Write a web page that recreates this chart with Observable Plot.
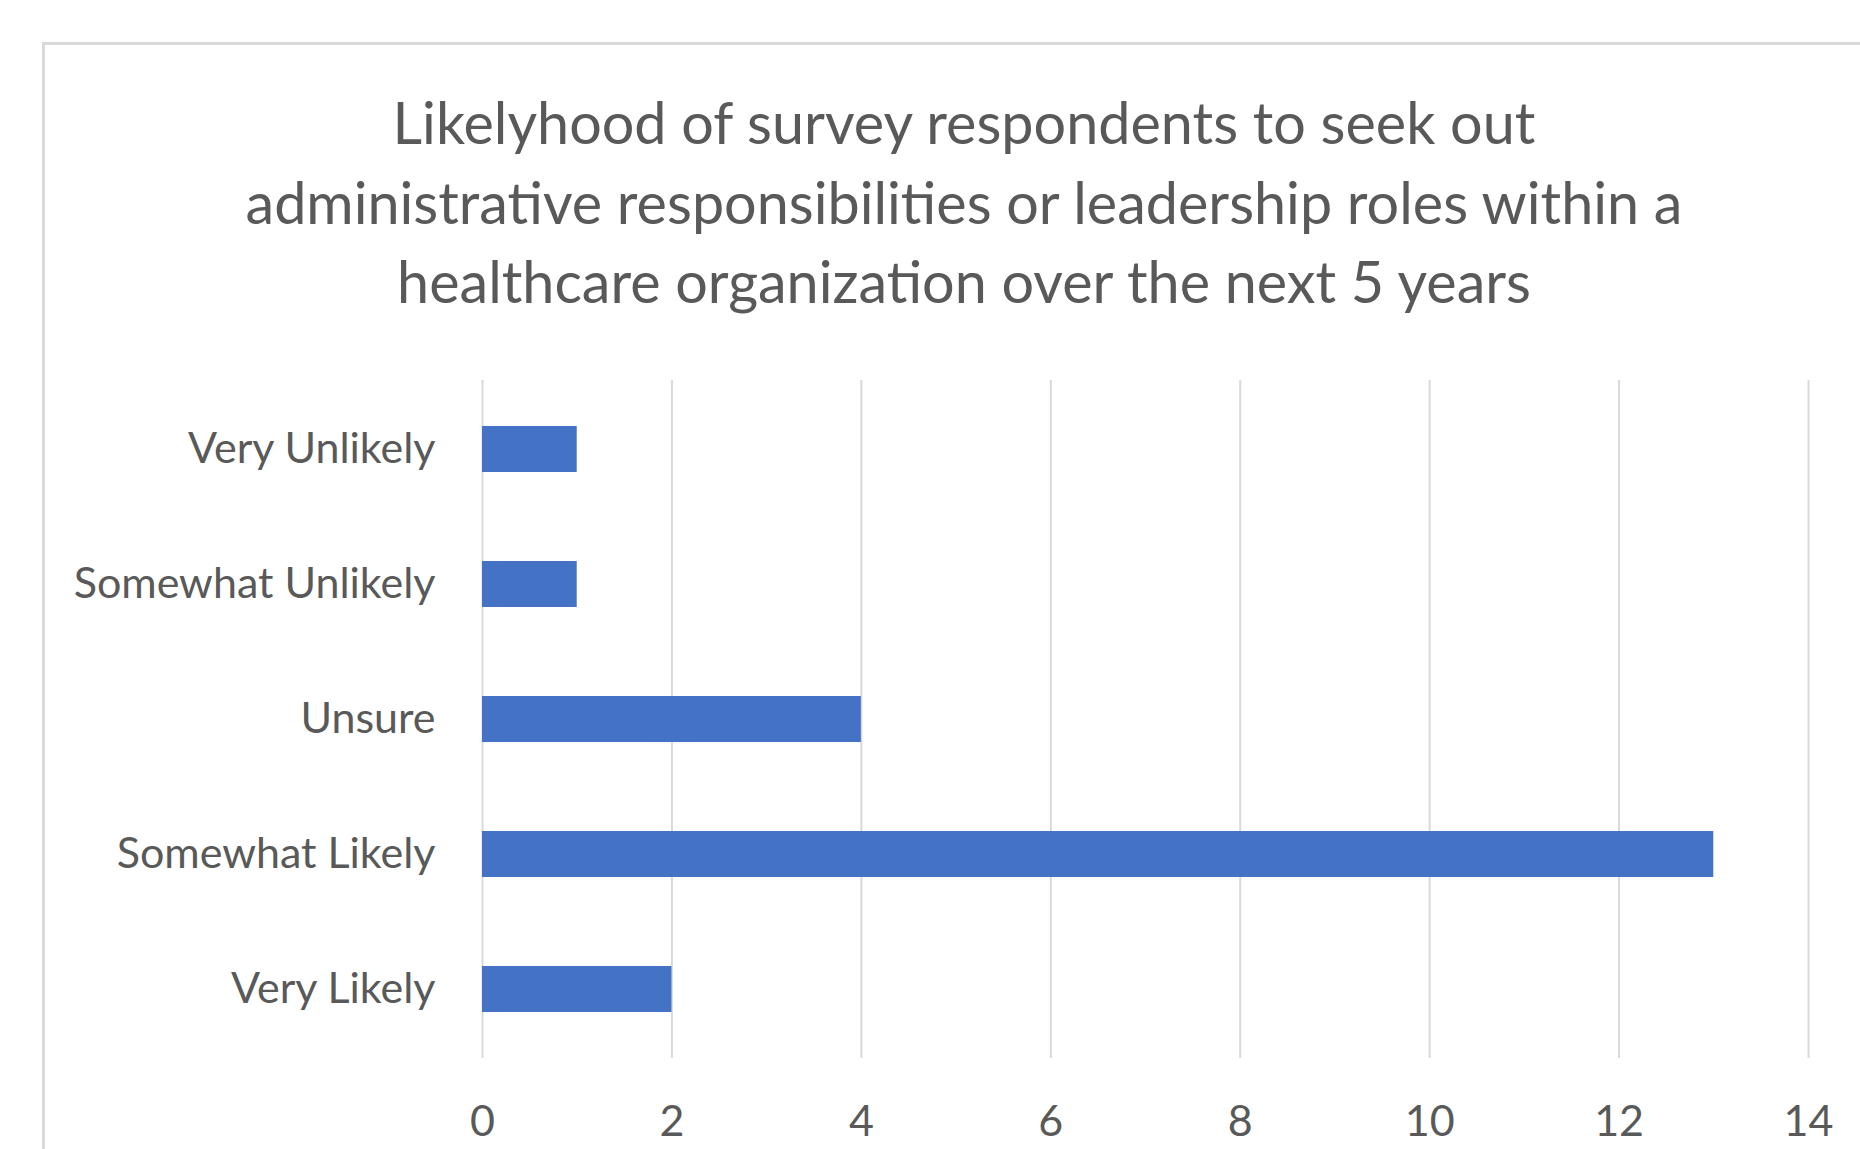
<!DOCTYPE html>
<html>
<head>
<meta charset="utf-8">
<script src="https://cdn.jsdelivr.net/npm/d3@7"></script>
<script src="https://cdn.jsdelivr.net/npm/@observablehq/plot@0.6"></script>
<style>
  html, body { margin: 0; padding: 0; background: #ffffff; overflow: hidden; width: 1860px; height: 1149px; }
  #frame { position: absolute; left: 42px; top: 42px; width: 1900px; height: 1200px; border: 3px solid #d9d9d9; box-sizing: border-box; }
  #title { position: absolute; left: 0; top: 82px; width: 1928px; text-align: center; font-family: Lato, "Open Sans", sans-serif; font-size: 57.5px; line-height: 79.5px; color: #595959; }
  #chart { position: absolute; left: 0; top: 330px; }
</style>
</head>
<body>
<div id="frame"></div>
<div id="title">Likelyhood of survey respondents to seek out<br>administrative responsibilities or leadership roles within a<br>healthcare organization over the next 5 years</div>
<div id="chart"></div>
<script>
const categories = ["Very Unlikely", "Somewhat Unlikely", "Unsure", "Somewhat Likely", "Very Likely"];
const values = [1, 1, 4, 13, 2];
const xTicks = [0, 2, 4, 6, 8, 10, 12, 14];

const data = categories.map((c, i) => ({category: c, value: values[i]}));

const chart = Plot.plot({
  width: 1860,
  height: 819,
  marginLeft: 482,
  marginRight: 52,
  marginTop: 50,
  marginBottom: 91,
  style: {fontFamily: "Lato, 'Open Sans', sans-serif", fontSize: "43px", color: "#595959", background: "transparent"},
  x: {domain: [0, 14], ticks: xTicks, label: null},
  y: {domain: categories, paddingInner: 0.66, paddingOuter: 0.33, label: null},
  marks: [
    Plot.gridX(xTicks, {stroke: "#d9d9d9", strokeOpacity: 1, strokeWidth: 2}),
    Plot.barX(data, {x: "value", y: "category", fill: "#4472C4"}),
    Plot.axisX(xTicks, {tickSize: 0, tickPadding: 47, label: null, fill: "#595959"}),
    Plot.axisY({tickSize: 0, tickPadding: 47, label: null, fill: "#595959"})
  ]
});
document.getElementById("chart").appendChild(chart);
</script>
</body>
</html>
